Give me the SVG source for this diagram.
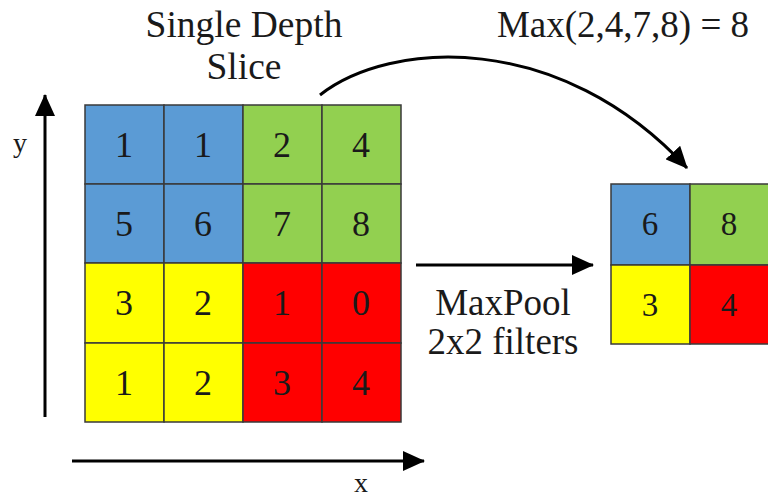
<svg xmlns="http://www.w3.org/2000/svg" width="768" height="497" viewBox="0 0 768 497">
<style>
.t{fill:#1a1a1a;text-anchor:middle}
.b{fill:#5b9bd5}.g{fill:#92d050}.yl{fill:#ffff00}.r{fill:#ff0000}
.cell rect{stroke:#3a3a3a;stroke-width:1.5}
.conn{fill:none;stroke:#000;stroke-width:3}
</style>
<defs>
<marker id="ah" markerWidth="22" markerHeight="20" refX="21" refY="10" orient="auto" markerUnits="userSpaceOnUse">
<path d="M0,0 L22,10 L0,20 Z" fill="#000"/>
</marker>
</defs>
<rect width="768" height="497" fill="#fff"/>

<g id="title-single-depth" font-family="Liberation Serif, Times New Roman, serif" font-size="37.5">
<text class="t" x="244" y="37">Single Depth</text>
<text class="t" x="244" y="79">Slice</text>
</g>
<g id="title-max" font-family="Liberation Serif, Times New Roman, serif" font-size="37">
<text class="t" x="623" y="37">Max(2,4,7,8) = 8</text>
</g>

<g id="input-grid" class="cell" font-family="Liberation Serif, Times New Roman, serif" font-size="36">
<rect class="b" x="85" y="105" width="79" height="79"/>
<rect class="b" x="164" y="105" width="79" height="79"/>
<rect class="g" x="243" y="105" width="79" height="79"/>
<rect class="g" x="322" y="105" width="79" height="79"/>
<rect class="b" x="85" y="184" width="79" height="79"/>
<rect class="b" x="164" y="184" width="79" height="79"/>
<rect class="g" x="243" y="184" width="79" height="79"/>
<rect class="g" x="322" y="184" width="79" height="79"/>
<rect class="yl" x="85" y="263" width="79" height="80"/>
<rect class="yl" x="164" y="263" width="79" height="80"/>
<rect class="r" x="243" y="263" width="79" height="80"/>
<rect class="r" x="322" y="263" width="79" height="80"/>
<rect class="yl" x="85" y="343" width="79" height="79"/>
<rect class="yl" x="164" y="343" width="79" height="79"/>
<rect class="r" x="243" y="343" width="79" height="79"/>
<rect class="r" x="322" y="343" width="79" height="79"/>
<text class="t" x="124" y="157">1</text>
<text class="t" x="203" y="157">1</text>
<text class="t" x="282" y="157">2</text>
<text class="t" x="361" y="157">4</text>
<text class="t" x="124" y="236">5</text>
<text class="t" x="203" y="236">6</text>
<text class="t" x="282" y="236">7</text>
<text class="t" x="361" y="236">8</text>
<text class="t" x="124" y="315">3</text>
<text class="t" x="203" y="315">2</text>
<text class="t" x="282" y="315">1</text>
<text class="t" x="361" y="315">0</text>
<text class="t" x="124" y="395">1</text>
<text class="t" x="203" y="395">2</text>
<text class="t" x="282" y="395">3</text>
<text class="t" x="361" y="395">4</text>
</g>

<g id="output-grid" class="cell" font-family="Liberation Serif, Times New Roman, serif" font-size="33">
<rect class="b" x="611" y="184" width="79" height="81"/>
<rect class="g" x="690" y="184" width="79" height="81"/>
<rect class="yl" x="611" y="265" width="79" height="79"/>
<rect class="r" x="690" y="265" width="79" height="79"/>
<text class="t" x="650" y="235">6</text>
<text class="t" x="729" y="235">8</text>
<text class="t" x="650" y="316">3</text>
<text class="t" x="729" y="316">4</text>
</g>

<g id="maxpool-label" font-family="Liberation Serif, Times New Roman, serif" font-size="37">
<text class="t" x="503" y="315">MaxPool</text>
<text class="t" x="503" y="354">2x2 filters</text>
</g>

<g id="axis-labels" font-family="Liberation Serif, Times New Roman, serif" font-size="28">
<text class="t" x="20" y="152">y</text>
<text class="t" x="361" y="492">x</text>
</g>

<g id="connectors">
<path class="conn" d="M320,95 C390,40 560,30 687,168" marker-end="url(#ah)"/>
<line class="conn" x1="416" y1="265" x2="593" y2="265" marker-end="url(#ah)"/>
<line class="conn" x1="45" y1="417" x2="45" y2="95" marker-end="url(#ah)"/>
<line class="conn" x1="72" y1="461" x2="424" y2="461" marker-end="url(#ah)"/>
</g>
</svg>
